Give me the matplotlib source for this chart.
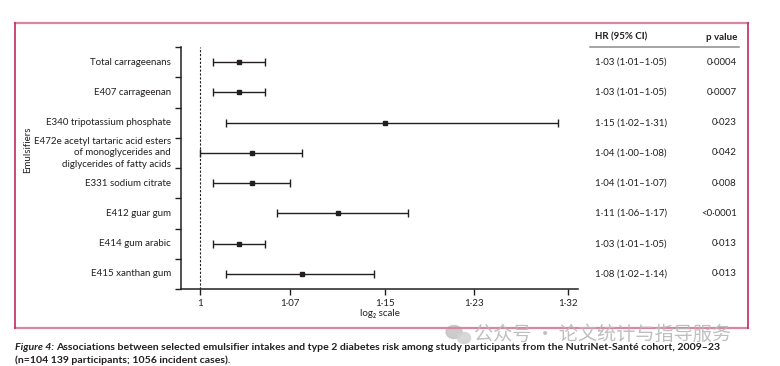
import matplotlib
matplotlib.use('Agg')
import matplotlib.pyplot as plt
from matplotlib.lines import Line2D
from matplotlib.patches import Ellipse
import numpy as np

plt.rcParams['font.family'] = ['Lato', 'DejaVu Sans']

labels = ['Total carrageenans', 'E407 carrageenan', 'E340 tripotassium phosphate',
          'E472e acetyl tartaric acid esters\nof monoglycerides and\ndiglycerides of fatty acids',
          'E331 sodium citrate', 'E412 guar gum', 'E414 gum arabic', 'E415 xanthan gum']
hr = [1.03, 1.03, 1.15, 1.04, 1.04, 1.11, 1.03, 1.08]
lo = [1.01, 1.01, 1.02, 1.00, 1.01, 1.06, 1.01, 1.02]
hi = [1.05, 1.05, 1.31, 1.08, 1.07, 1.17, 1.05, 1.14]
pvals = ['0·0004', '0·0007', '0·023', '0·042', '0·008', '<0·0001', '0·013', '0·013']
xticks = [1, 1.07, 1.15, 1.23, 1.32]

W, H = 780, 366
fx = lambda x: x / W
fy = lambda y: 1 - y / H
TXT = '#231f20'

fig = plt.figure(figsize=(W / 100, H / 100), dpi=100)
ax = fig.add_axes([fx(181), fy(289), fx(578) - fx(181), fy(47) - fy(289)])

rows = np.arange(len(labels))
hr_a, lo_a, hi_a = np.array(hr), np.array(lo), np.array(hi)
ax.errorbar(hr_a, rows, xerr=[hr_a - lo_a, hi_a - hr_a], fmt='s', ms=2.2,
            color=TXT, ecolor=TXT, elinewidth=1.0, capsize=3, capthick=1.0)
ax.axvline(1, color=TXT, lw=0.8, ls=(0, (2, 1.5)))

ax.set_xscale('log', base=2)
ax.set_xlim(0.9858, 1.330)
ax.set_ylim(len(labels) - 0.5, -0.5)
ax.set_xticks(xticks)
ax.set_xticklabels([('%g' % t).replace('.', '·') for t in xticks])
ax.xaxis.set_minor_locator(matplotlib.ticker.NullLocator())
ax.set_yticks(np.arange(-0.5, len(labels), 1.0))
ax.set_yticklabels([])
ax.tick_params(axis='both', direction='out', length=4, width=1.0, color=TXT,
               labelsize=7, labelcolor=TXT, pad=3)
for s in ['top', 'right']:
    ax.spines[s].set_visible(False)
for s in ['left', 'bottom']:
    ax.spines[s].set_linewidth(1.1)
    ax.spines[s].set_color(TXT)

for i, lab in enumerate(labels):
    ax.text(-0.025, i, lab, transform=ax.get_yaxis_transform(), ha='right', va='center',
            fontsize=7, color=TXT, linespacing=1.35)

fig.text(fx(380), fy(313), 'log₂ scale', ha='center', va='center', fontsize=7, color=TXT)
fig.text(fx(28), fy(150), 'Emulsifiers', rotation=90, ha='center', va='center', fontsize=7, color=TXT)

# table on the right
fig.text(fx(595), fy(37), 'HR (95% CI)', ha='left', va='center', fontsize=7, weight='bold', color=TXT)
fig.text(fx(737), fy(37), 'p value', ha='right', va='center', fontsize=7, weight='bold', color=TXT)
fig.add_artist(Line2D([fx(590), fx(739)], [fy(47), fy(47)], color='#8c8c8c', lw=1.1))
for i in range(len(labels)):
    yy = ax.transData.transform((1, i))[1] / H
    s = ('%.2f (%.2f–%.2f)' % (hr[i], lo[i], hi[i])).replace('.', '·')
    fig.text(fx(595), yy, s, ha='left', va='center', fontsize=7, color=TXT)
    fig.text(fx(737), yy, pvals[i], ha='right', va='center', fontsize=7, color=TXT)

# frame
fig.add_artist(Line2D([fx(15), fx(748)], [fy(23), fy(23)], color='#d9869e', lw=1.6))
fig.add_artist(Line2D([fx(15), fx(748)], [fy(328), fy(328)], color='#d9869e', lw=1.6))
fig.add_artist(Line2D([fx(15), fx(15)], [fy(23), fy(328)], color='#c02a5c', lw=1.2))
fig.add_artist(Line2D([fx(748), fx(748)], [fy(23), fy(328)], color='#c02a5c', lw=1.2))

# watermark
fig.add_artist(Ellipse((fx(454), fy(332)), 16 / W, 13 / H, color='#c4c4c4', alpha=0.85))
fig.add_artist(Ellipse((fx(464), fy(338)), 13 / W, 11 / H, color='#d2d2d2', alpha=0.85))
fig.text(fx(474), fy(334.5), '公众号 · 论文统计与指导服务', ha='left', va='center', fontsize=13.8,
         color='#b8b8b8', family=['Noto Sans CJK SC', 'DejaVu Sans'], alpha=0.9)

# caption
t1 = fig.text(fx(15), fy(347.5), 'Figure 4: ', ha='left', va='center', fontsize=7.55,
              style='italic', weight='bold', color=TXT)
fig.canvas.draw()
bb = t1.get_window_extent()
fig.text(bb.x1 / W, fy(347.5), 'Associations between selected emulsifier intakes and type 2 diabetes risk '
         'among study participants from the NutriNet-Santé cohort, 2009–23',
         ha='left', va='center', fontsize=7.55, weight='bold', color=TXT)
fig.text(fx(15), fy(360), '(n=104 139 participants; 1056 incident cases).', ha='left', va='center',
         fontsize=7.55, weight='bold', color=TXT)

fig.savefig('out.png', dpi=100)
